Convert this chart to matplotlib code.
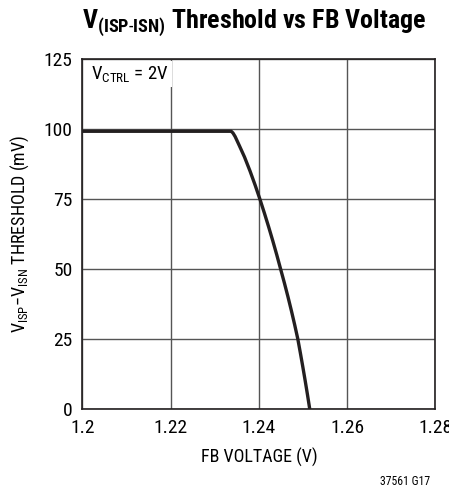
import matplotlib
matplotlib.use("Agg")
import matplotlib.pyplot as plt
from matplotlib import font_manager

# Datos
fb_v = [1.2000, 1.2337, 1.2341, 1.2346, 1.23557, 1.23672, 1.23797, 1.23912,
        1.24020, 1.24122, 1.24220, 1.24314, 1.24404, 1.24490, 1.24576, 1.24658,
        1.24736, 1.24810, 1.24880, 1.24938, 1.24994, 1.25048, 1.25100, 1.25150]
thr_mv = [99.2, 99.2, 98.6, 97.3, 94.0, 90.0, 85.0, 80.0,
          75.0, 70.0, 65.0, 60.0, 55.0, 50.0, 45.0, 40.0,
          35.0, 30.0, 25.0, 20.0, 15.0, 10.0, 5.0, 0.0]

x_ticks = [1.2, 1.22, 1.24, 1.26, 1.28]
x_labels = ["1.2", "1.22", "1.24", "1.26", "1.28"]
y_ticks = [0, 25, 50, 75, 100, 125]

# Buscar una fuente estrecha (tipo Helvetica Narrow)
nombres = {f.name for f in font_manager.fontManager.ttflist}
estrecha = None
for n in ["Liberation Sans Narrow", "Arial Narrow", "Roboto Condensed",
          "Open Sans Condensed", "DejaVu Sans Condensed", "Noto Sans Condensed"]:
    if n in nombres:
        estrecha = n
        break
fuente = estrecha if estrecha else "Liberation Sans"

plt.rcParams["font.family"] = [fuente, "DejaVu Sans"]
plt.rcParams["mathtext.fontset"] = "custom"
plt.rcParams["mathtext.rm"] = fuente
plt.rcParams["mathtext.bf"] = fuente + ":bold"

escala = 1.0 if estrecha else 0.9

fig = plt.figure(figsize=(4.49, 4.88), dpi=100)
ax = fig.add_axes([0.1837, 0.1619, 0.7862, 0.7171])

ax.plot(fb_v, thr_mv, color="#231f20", lw=2.4, solid_capstyle="butt", zorder=3)

ax.set_xlim(1.2, 1.28)
ax.set_ylim(0, 125)
ax.set_xticks(x_ticks)
ax.set_xticklabels(x_labels)
ax.set_yticks(y_ticks)
ax.tick_params(length=0, labelsize=14 * escala)
ax.tick_params(axis="x", pad=7)
ax.tick_params(axis="y", pad=7)
ax.grid(True, color="#555555", lw=1.0)
ax.set_axisbelow(True)
for s in ax.spines.values():
    s.set_linewidth(1.2)
    s.set_color("#231f20")

ax.set_xlabel("FB VOLTAGE (V)", fontsize=13 * escala, labelpad=8)
ax.set_ylabel(r"$\mathrm{V_{ISP}}$$-$$\mathrm{V_{ISN}}$ THRESHOLD (mV)", fontsize=13 * escala,
              labelpad=9)

ax.text(0.025, 0.985, r"$\mathrm{V_{CTRL}}$ = 2V", transform=ax.transAxes,
        fontsize=13.5 * escala, va="top", ha="left", zorder=4,
        bbox=dict(facecolor="white", edgecolor="none", pad=2))

titulo = fig.text(0.567, 0.941, r"$\mathbf{V_{(ISP\text{-}ISN)}}$ Threshold vs FB Voltage",
                  fontsize=18, fontweight="bold", ha="center", va="baseline")
# ajustar el titulo al ancho del original (~345 px)
fig.canvas.draw()
ancho = titulo.get_window_extent().width
titulo.set_fontsize(18 * 345 / ancho)

fig.text(0.958, 0.006, "37561 G17", fontsize=8.5, ha="right", va="baseline")

fig.savefig("out.png", dpi=100)
